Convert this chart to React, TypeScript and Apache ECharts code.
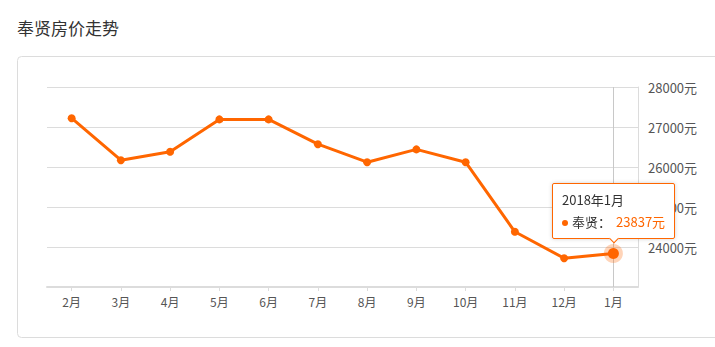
import React, { useEffect, useRef } from "react";
import * as echarts from "echarts";

const title = "奉贤房价走势";
const seriesName = "奉贤";
const categories = ["2月", "3月", "4月", "5月", "6月", "7月", "8月", "9月", "10月", "11月", "12月", "1月"];
const periods = [
  "2017年2月", "2017年3月", "2017年4月", "2017年5月", "2017年6月", "2017年7月",
  "2017年8月", "2017年9月", "2017年10月", "2017年11月", "2017年12月", "2018年1月",
];
const prices = [27220, 26170, 26380, 27190, 27190, 26570, 26120, 26440, 26120, 24380, 23720, 23837];
const yMin = 23000;
const yMax = 28000;
const yInterval = 1000;
const activeIndex = 11;

const ORANGE = "#ff6600";
const FONT = '"Microsoft YaHei", "Noto Sans CJK SC", sans-serif';

export default function App() {
  const ref = useRef<HTMLDivElement>(null);
  useEffect(() => {
    if (!ref.current) return;
    const chart = echarts.init(ref.current, undefined, { renderer: "svg" });
    const data = prices.map((v, i) =>
      i === activeIndex
        ? {
            value: v,
            symbolSize: 11,
            itemStyle: { color: ORANGE, borderColor: "rgba(255,102,0,0.28)", borderWidth: 8 },
          }
        : v
    );
    chart.setOption({
      animation: false,
      textStyle: { fontFamily: FONT },
      title: {
        text: title,
        left: 12,
        top: 14,
        textStyle: { fontSize: 17, fontWeight: "normal", color: "#333", fontFamily: FONT },
      },
      graphic: [
        {
          type: "rect",
          z: -10,
          silent: true,
          shape: { x: 17.5, y: 56.5, width: 740, height: 281, r: 4 },
          style: { fill: "#fff", stroke: "#dcdcdc", lineWidth: 1 },
        },
      ],
      grid: { left: 47, right: 77, top: 87, bottom: 60 },
      tooltip: {
        trigger: "item",
        position: "top",
        alwaysShowContent: true,
        backgroundColor: "#fff",
        borderColor: ORANGE,
        borderWidth: 1,
        padding: [5, 9],
        extraCssText:
          "box-shadow:0 0 4px rgba(0,0,0,0.18);border-radius:2px;line-height:22px;margin-top:5px;",
        textStyle: { color: "#333", fontSize: 13, fontFamily: FONT },
        formatter: (p: any) =>
          `${periods[p.dataIndex]}<br/>` +
          `<span style="display:inline-block;width:6px;height:6px;border-radius:3px;background:${ORANGE};margin-right:4px;vertical-align:middle;"></span>` +
          `${seriesName}：<span style="color:${ORANGE};padding-left:5px;">${p.value}元</span>`,
      },
      xAxis: {
        type: "category",
        data: categories,
        boundaryGap: true,
        axisLine: { lineStyle: { color: "#dcdcdc", width: 2 } },
        axisTick: { show: true, alignWithLabel: true, length: 4, lineStyle: { color: "#dcdcdc" } },
        axisLabel: { color: "#555", fontSize: 12, margin: 8, fontFamily: FONT },
        splitLine: { show: false },
      },
      yAxis: {
        type: "value",
        position: "right",
        min: yMin,
        max: yMax,
        interval: yInterval,
        axisLine: { show: true, lineStyle: { color: "#dcdcdc", width: 1 } },
        axisTick: { show: false },
        axisLabel: {
          color: "#555",
          fontSize: 13,
          margin: 10,
          showMinLabel: false,
          formatter: (v: number) => `${v}元`,
          fontFamily: FONT,
        },
        splitLine: { lineStyle: { color: "#dcdcdc", width: 1 } },
      },
      series: [
        {
          name: seriesName,
          type: "line",
          data,
          symbol: "circle",
          symbolSize: 8,
          showAllSymbol: true,
          itemStyle: { color: ORANGE },
          lineStyle: { color: ORANGE, width: 3 },
          emphasis: { disabled: true },
          markLine: {
            silent: true,
            symbol: "none",
            label: { show: false },
            lineStyle: { color: "#c8c8c8", type: "solid", width: 1 },
            data: [{ xAxis: categories[activeIndex] }],
            z: 1,
          },
        },
      ],
    });
    chart.dispatchAction({ type: "showTip", seriesIndex: 0, dataIndex: activeIndex });
    return () => chart.dispose();
  }, []);
  return (
    <div
      ref={ref}
      style={{ position: "absolute", left: 0, top: 0, width: 715, height: 347, overflow: "hidden" }}
    />
  );
}
